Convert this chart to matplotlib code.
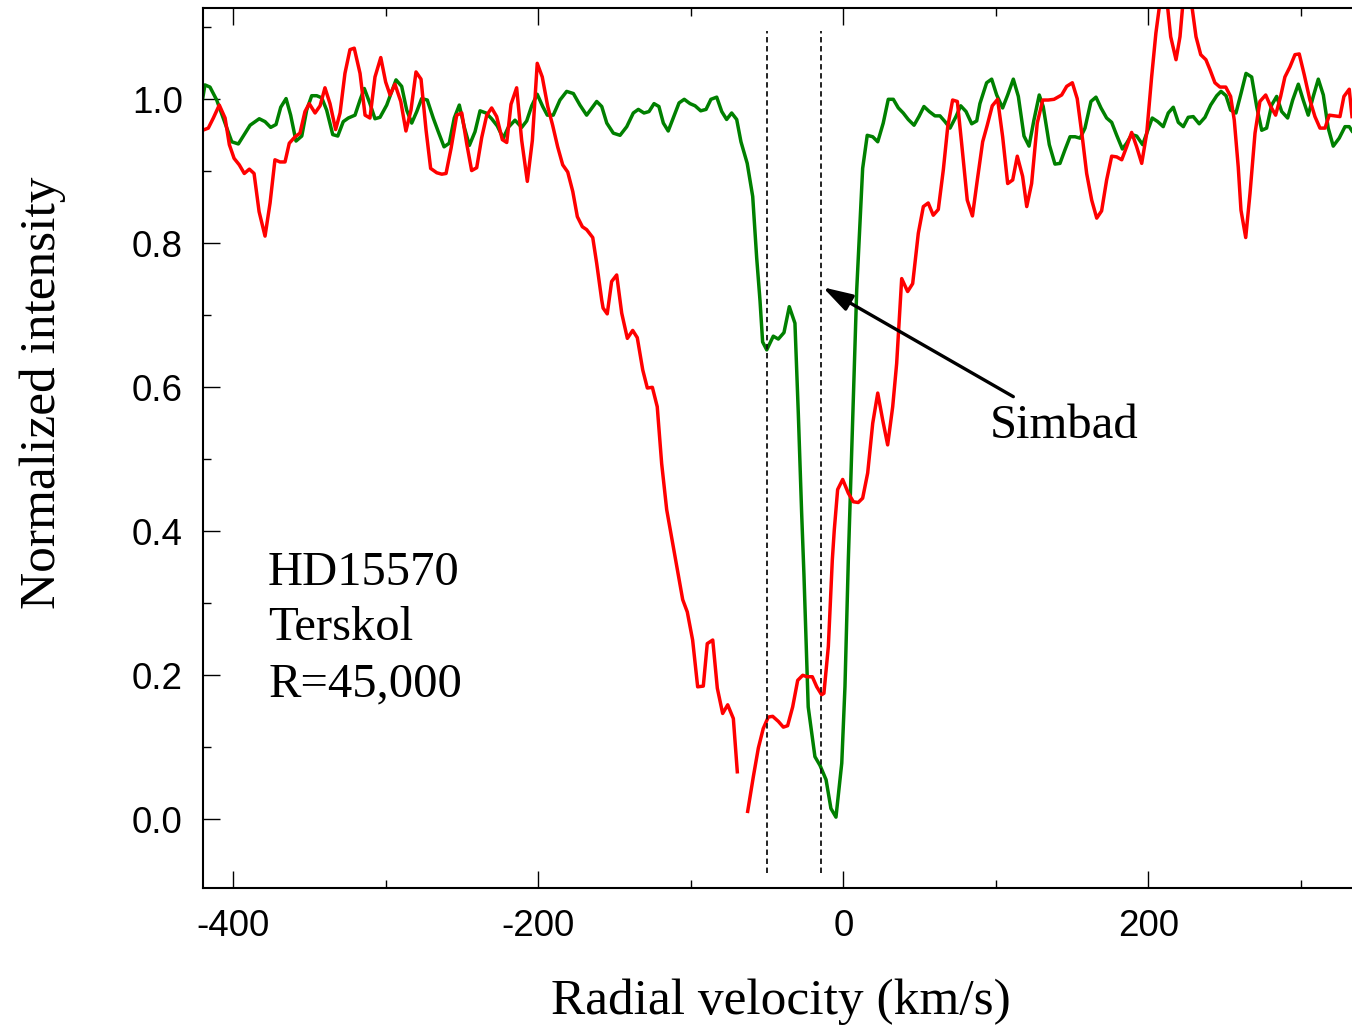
import numpy as np
import matplotlib
matplotlib.use("Agg")
import matplotlib.pyplot as plt
from matplotlib.ticker import MultipleLocator

# ---------------- data ----------------
# green profile: radial velocity (km/s), normalized intensity
green_v = [-420.1, -418.6, -415.3, -410.9, -405.4, -401.0, -396.7, -392.3, -389.0, -383.0,
           -379.2, -375.5, -372.0, -368.9, -365.4, -362.4, -358.9, -355.1, -351.9, -348.6,
           -345.3, -342.0, -338.8, -334.8, -331.5, -327.9, -324.6, -320.2, -316.9, -314.1,
           -310.4, -307.1, -303.8, -299.4, -296.1, -293.3, -289.6, -286.3, -283.0, -279.7,
           -276.5, -272.8, -268.9, -265.6, -261.8, -258.4, -255.1, -251.8, -248.5, -245.2,
           -241.5, -238.2, -234.3, -230.6, -226.9, -223.0, -219.7, -215.3, -210.9, -207.6,
           -204.3, -200.7, -197.1, -194.1, -190.2, -185.8, -181.4, -177.0, -172.7, -168.3,
           -161.7, -158.4, -155.1, -150.8, -146.4, -142.0, -137.7, -134.4, -130.7, -127.4,
           -124.1, -120.9, -118.0, -114.8, -111.5, -107.7, -104.3, -100.5, -97.2, -93.5,
           -90.0, -86.8, -83.0, -79.7, -76.5, -73.2, -69.9, -67.1, -63.0, -59.4,
           -56.8, -54.6, -52.9, -50.2, -45.9, -42.6, -38.9, -35.4, -31.7, -29.5,
           -27.3, -25.8, -23.0, -18.6, -15.3, -11.3, -8.1, -4.8, -1.0, 1.1,
           3.3, 8.8, 12.7, 15.7, 19.3, 22.6, 26.2, 29.5, 32.8, 36.1,
           39.3, 42.6, 46.4, 49.6, 52.9, 56.4, 60.1, 63.4, 66.7, 70.0,
           73.9, 77.0, 80.5, 84.2, 87.5, 89.6, 94.0, 97.3, 100.6, 104.5,
           107.8, 111.5, 114.8, 118.5, 121.8, 125.0, 128.5, 131.1, 135.1, 138.8,
           142.1, 145.4, 148.7, 152.0, 155.3, 158.5, 162.4, 165.7, 169.0, 172.7,
           176.0, 179.3, 183.0, 185.8, 189.1, 192.4, 196.3, 199.0, 202.6, 206.2,
           209.8, 213.1, 216.4, 219.7, 223.0, 226.2, 229.5, 233.4, 237.2, 240.9,
           244.9, 247.7, 251.0, 254.0, 257.5, 260.8, 264.1, 267.8, 271.1, 274.4,
           277.6, 280.9, 284.2, 287.5, 291.4, 294.7, 298.4, 301.6, 304.9, 308.2,
           311.5, 314.8, 318.0, 321.3, 325.2, 329.0, 331.8, 333.6]
green_i = [1.001, 1.020, 1.017, 0.999, 0.967, 0.941, 0.938, 0.953, 0.964, 0.973,
           0.969, 0.961, 0.965, 0.989, 1.001, 0.978, 0.942, 0.949, 0.985, 1.005,
           1.005, 1.002, 0.985, 0.951, 0.949, 0.969, 0.974, 0.978, 0.999, 1.015,
           0.994, 0.973, 0.975, 0.992, 1.011, 1.027, 1.018, 0.985, 0.967, 0.983,
           1.001, 0.999, 0.974, 0.955, 0.934, 0.939, 0.974, 0.992, 0.961, 0.936,
           0.955, 0.984, 0.981, 0.973, 0.963, 0.946, 0.961, 0.971, 0.961, 0.970,
           0.991, 1.007, 0.990, 0.978, 0.978, 0.999, 1.011, 1.008, 0.992, 0.978,
           0.997, 0.990, 0.967, 0.953, 0.950, 0.962, 0.981, 0.986, 0.981, 0.983,
           0.994, 0.990, 0.967, 0.956, 0.974, 0.995, 1.000, 0.994, 0.991, 0.984,
           0.986, 1.000, 1.003, 0.983, 0.972, 0.981, 0.972, 0.941, 0.911, 0.865,
           0.780, 0.720, 0.663, 0.652, 0.671, 0.667, 0.676, 0.712, 0.689, 0.564,
           0.425, 0.340, 0.156, 0.087, 0.075, 0.055, 0.015, 0.003, 0.078, 0.184,
           0.360, 0.735, 0.904, 0.950, 0.948, 0.941, 0.967, 1.000, 1.000, 0.988,
           0.981, 0.972, 0.964, 0.976, 0.990, 0.983, 0.977, 0.977, 0.969, 0.960,
           0.976, 0.991, 0.983, 0.966, 0.970, 0.994, 1.023, 1.028, 1.006, 0.988,
           1.006, 1.028, 1.004, 0.949, 0.935, 0.971, 1.006, 0.990, 0.937, 0.910,
           0.911, 0.930, 0.948, 0.948, 0.946, 0.960, 0.997, 1.003, 0.988, 0.974,
           0.968, 0.950, 0.931, 0.939, 0.951, 0.949, 0.937, 0.953, 0.974, 0.969,
           0.962, 0.981, 0.989, 0.968, 0.962, 0.975, 0.976, 0.966, 0.975, 0.992,
           1.005, 1.011, 1.005, 0.985, 0.981, 1.008, 1.036, 1.031, 0.990, 0.957,
           0.960, 0.992, 1.004, 0.983, 0.974, 0.999, 1.021, 0.999, 0.978, 1.004,
           1.028, 1.006, 0.960, 0.935, 0.946, 0.962, 0.962, 0.956]

# red profile (gap near -66 km/s is a break in the original curve)
red_v = [-420.1, -416.4, -413.1, -409.2, -405.4, -402.6, -399.5, -396.1, -392.8, -389.5,
         -386.4, -383.1, -379.2, -375.9, -372.7, -369.4, -366.1, -363.3, -359.5, -356.3,
         -353.0, -350.2, -346.4, -343.1, -339.9, -336.6, -332.9, -330.0, -326.8, -323.5,
         -320.7, -316.9, -313.6, -310.4, -307.1, -303.3, -300.1, -297.2, -294.0, -290.2,
         -286.8, -283.5, -280.2, -276.9, -273.6, -270.6, -266.6, -263.3, -260.5, -257.2,
         -253.5, -250.2, -247.0, -243.7, -240.4, -237.1, -233.8, -230.6, -227.3, -223.6,
         -220.7, -217.9, -214.2, -210.9, -207.2, -203.9, -200.7, -197.4, -193.8, -190.6,
         -187.3, -184.0, -180.7, -177.4, -174.4, -171.1, -168.3, -164.3, -161.7, -158.4,
         -157.5, -154.8, -151.9, -148.6, -145.3, -141.6, -138.1, -135.1, -131.5, -128.5,
         -125.2, -122.0, -119.1, -115.8, -111.5, -107.5, -105.3, -102.3, -98.8, -95.5,
         -91.8, -89.2, -85.6, -82.6, -79.1, -75.8, -72.1, -69.5, -66.0, -62.7,
         -59.0, -55.7, -52.5, -49.2, -46.3, -42.6, -39.3, -36.5, -33.2, -29.9,
         -26.6, -23.6, -20.3, -17.4, -14.2, -12.7, -9.8, -7.2, -5.9, -3.7,
         -0.4, 3.3, 6.6, 9.8, 12.7, 16.0, 19.3, 22.6, 25.8, 29.1,
         32.4, 35.0, 37.2, 38.3, 42.2, 45.5, 49.2, 52.5, 55.7, 59.0,
         62.3, 65.6, 68.5, 71.7, 74.8, 77.6, 81.3, 84.7, 87.9, 91.4,
         94.4, 97.7, 101.2, 104.5, 107.8, 111.1, 114.1, 117.6, 120.3, 123.5,
         127.2, 130.8, 134.4, 138.2, 143.2, 146.5, 150.2, 153.4, 157.0, 159.6,
         162.9, 166.2, 169.4, 172.7, 176.0, 179.3, 182.6, 185.8, 189.1, 192.4,
         195.7, 199.0, 202.2, 205.0, 207.7, 210.3, 212.1, 214.7, 218.2, 220.8,
         223.4, 227.3, 231.3, 234.4, 237.8, 240.5, 243.7, 247.0, 250.8, 254.0,
         256.4, 259.0, 260.8, 263.9, 266.7, 270.0, 273.2, 277.0, 280.3, 283.5,
         286.8, 289.6, 292.9, 296.2, 299.0, 302.3, 306.0, 309.3, 312.6, 315.9,
         318.7, 322.4, 325.7, 328.3, 331.8, 333.6]
red_i = [0.957, 0.960, 0.974, 0.992, 0.974, 0.937, 0.918, 0.909, 0.897, 0.903,
         0.897, 0.844, 0.810, 0.856, 0.916, 0.913, 0.913, 0.939, 0.948, 0.953,
         0.983, 0.994, 0.981, 0.991, 1.016, 0.994, 0.958, 0.981, 1.036, 1.069,
         1.071, 1.036, 0.978, 0.974, 1.031, 1.058, 1.024, 1.006, 1.021, 0.997,
         0.956, 0.985, 1.038, 1.028, 0.957, 0.904, 0.898, 0.896, 0.897, 0.932,
         0.978, 0.981, 0.939, 0.901, 0.905, 0.947, 0.978, 0.988, 0.976, 0.944,
         0.940, 0.993, 1.016, 0.943, 0.886, 0.943, 1.050, 1.031, 0.990, 0.964,
         0.934, 0.909, 0.899, 0.872, 0.837, 0.823, 0.819, 0.808, 0.772, 0.721,
         0.710, 0.702, 0.747, 0.756, 0.703, 0.668, 0.679, 0.669, 0.624, 0.599,
         0.600, 0.573, 0.494, 0.430, 0.379, 0.332, 0.305, 0.288, 0.249, 0.184,
         0.185, 0.244, 0.249, 0.182, 0.147, 0.159, 0.140, 0.066, np.nan, 0.011,
         0.059, 0.099, 0.126, 0.142, 0.143, 0.136, 0.128, 0.130, 0.156, 0.193,
         0.200, 0.198, 0.198, 0.184, 0.173, 0.175, 0.240, 0.360, 0.402, 0.458,
         0.472, 0.453, 0.441, 0.440, 0.446, 0.481, 0.550, 0.592, 0.555, 0.520,
         0.573, 0.633, 0.712, 0.751, 0.733, 0.744, 0.814, 0.851, 0.856, 0.839,
         0.847, 0.902, 0.962, 0.999, 0.997, 0.939, 0.860, 0.838, 0.888, 0.941,
         0.964, 0.991, 1.000, 0.948, 0.883, 0.888, 0.921, 0.893, 0.851, 0.883,
         0.967, 0.999, 0.999, 1.000, 1.006, 1.018, 1.023, 1.001, 0.943, 0.897,
         0.860, 0.835, 0.845, 0.888, 0.921, 0.920, 0.916, 0.934, 0.954, 0.934,
         0.911, 0.953, 1.031, 1.092, 1.135, 1.150, 1.140, 1.087, 1.055, 1.087,
         1.150, 1.150, 1.087, 1.062, 1.055, 1.041, 1.023, 1.017, 1.017, 1.004,
         0.971, 0.906, 0.846, 0.808, 0.869, 0.953, 0.997, 1.006, 0.990, 0.978,
         1.004, 1.031, 1.045, 1.062, 1.063, 1.034, 0.999, 0.976, 0.960, 0.960,
         0.978, 0.977, 0.976, 1.004, 1.014, 0.976]

# dashed reference velocities (km/s)
ref_velocities = [-50.0, -14.5]

# ---------------- plotting ----------------
serif = "Liberation Serif"
plt.rcParams["font.family"] = "Liberation Sans"
plt.rcParams["axes.unicode_minus"] = False

fig = plt.figure(figsize=(13.52, 10.30), dpi=100)
ax = fig.add_axes([0.1499, 0.1376, 0.8501, 0.8549])

ax.plot(green_v, green_i, color="#008000", lw=2.5)
ax.plot(red_v, red_i, color="#ff0000", lw=2.5)

for v in ref_velocities:
    ax.plot([v, v], [-0.075, 1.095], color="#111111", lw=1.3,
            ls=(0, (3.0, 2.0)))

ax.annotate("", xy=(-13.5, 0.739), xytext=(111.5, 0.587),
            arrowprops=dict(arrowstyle="-|>,head_length=0.6,head_width=0.18",
                            mutation_scale=30, lw=2.4, color="black",
                            shrinkA=0, shrinkB=0))
ax.text(96.2, 0.529, "Simbad", family=serif, fontsize=35, va="baseline")

ax.text(-377.2, 0.325, "HD15570", family=serif, fontsize=35, va="baseline")
ax.text(-377.2, 0.249, "Terskol", family=serif, fontsize=35, va="baseline")
ax.text(-377.2, 0.170, "R=45,000", family=serif, fontsize=35, va="baseline")

ax.set_xlim(-420.1, 333.6)
ax.set_ylim(-0.0958, 1.1272)

ax.xaxis.set_major_locator(MultipleLocator(200))
ax.xaxis.set_minor_locator(MultipleLocator(100))
ax.yaxis.set_major_locator(MultipleLocator(0.2))
ax.yaxis.set_minor_locator(MultipleLocator(0.1))
ax.yaxis.set_major_formatter(plt.FormatStrFormatter("%.1f"))

ax.tick_params(which="both", direction="in", top=True, right=False,
               width=1.0, labelsize=26.5)
ax.tick_params(which="major", length=12)
ax.tick_params(which="minor", length=6)
ax.tick_params(axis="x", pad=15)
ax.tick_params(axis="y", pad=14.4)

ax.spines["right"].set_visible(False)
for s in ["left", "top", "bottom"]:
    ax.spines[s].set_linewidth(1.5)

ax.set_xlabel("Radial velocity (km/s)", family=serif, fontsize=37)
ax.xaxis.label.set_va("baseline")
ax.xaxis.set_label_coords(0.5032, -0.1427)
ax.set_ylabel("Normalized intensity", family=serif, fontsize=37)
ax.yaxis.label.set_va("baseline")
ax.yaxis.set_label_coords(-0.1285, 0.563)

fig.savefig("out.png", dpi=100)
